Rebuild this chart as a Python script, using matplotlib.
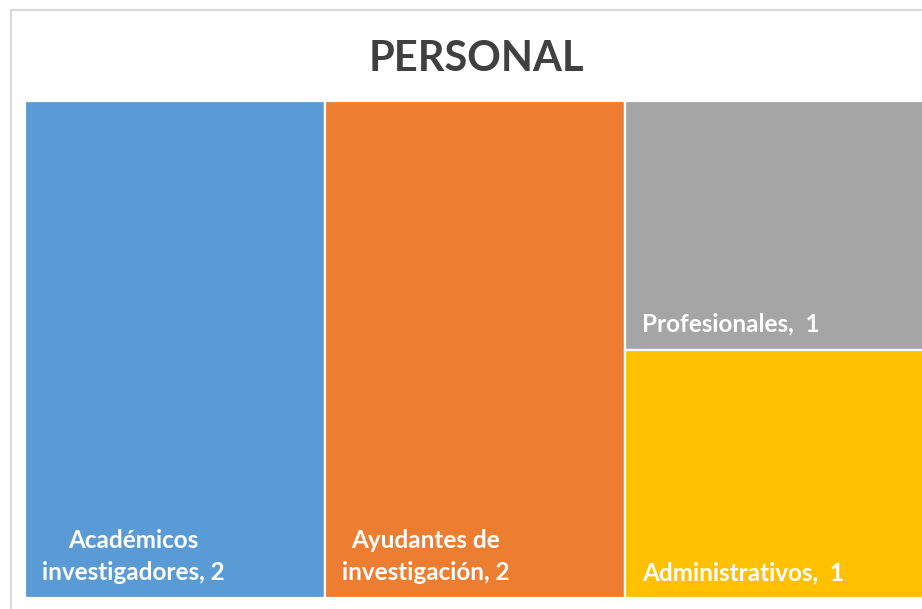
import textwrap
import matplotlib
matplotlib.use("Agg")
from matplotlib import pyplot as plt
from matplotlib.patches import Rectangle
from matplotlib.transforms import offset_copy

title = "PERSONAL"
categories = ["Académicos investigadores", "Ayudantes de investigación",
              "Profesionales", "Administrativos"]
values = [2, 2, 1, 1]
colors = ["#5B9BD5", "#ED7D31", "#A5A5A5", "#FFC000"]


def worst(row, w):
    s = sum(row)
    return max(max(w * w * r / (s * s), s * s / (w * w * r)) for r in row)


def squarify(areas, x, y, dx, dy):
    # plain squarified treemap, y grows upward
    rects = []
    areas = list(areas)
    while areas:
        w = min(dx, dy)
        row = [areas.pop(0)]
        while areas and worst(row + [areas[0]], w) <= worst(row, w):
            row.append(areas.pop(0))
        s = sum(row)
        if dx >= dy:
            width = s / dy
            yy = y + dy
            for r in row:
                h = r / width
                rects.append((x, yy - h, width, h))
                yy -= h
            x += width
            dx -= width
        else:
            height = s / dx
            xx = x
            for r in row:
                ww = r / height
                rects.append((xx, y + dy - height, ww, height))
                xx += ww
            dy -= height
    return rects


W, H = 900.0, 497.0
total = sum(values)
areas = [v / total * W * H for v in values]
rects = squarify(areas, 0, 0, W, H)

fig = plt.figure(figsize=(9.22, 6.09), dpi=100)
fig.patches.append(Rectangle((10.5 / 922, -0.1), 1.2, (609 - 9.5) / 609 + 0.1,
                             transform=fig.transFigure, fill=False,
                             edgecolor="#D9D9D9", linewidth=1.5))

ax = fig.add_axes([25 / 922, (609 - 598) / 609, W / 922, H / 609])
ax.set_xlim(0, W)
ax.set_ylim(0, H)
ax.axis("off")

for (x, y, w, h), cat, val, col in zip(rects, categories, values, colors):
    ax.add_patch(Rectangle((x, y), w, h, facecolor=col, edgecolor="white",
                           linewidth=1.6))
    label = textwrap.fill(f"{cat}, {val}", width=18)
    label = label.replace(", ", ",  ") if "\n" not in label else label
    tr = offset_copy(ax.transData, fig=fig, x=17, y=14, units="dots")
    ax.text(x, y, label, transform=tr, ha="left", va="bottom",
            multialignment="center", color="white", fontsize=17.5,
            fontweight="bold", family="Lato", linespacing=1.45)

fig.text(476 / 922, 1 - 59 / 609, title, ha="center", va="center",
         fontsize=30, fontweight="bold", color="#404040", family="Lato")

fig.savefig("out.png", dpi=100)
